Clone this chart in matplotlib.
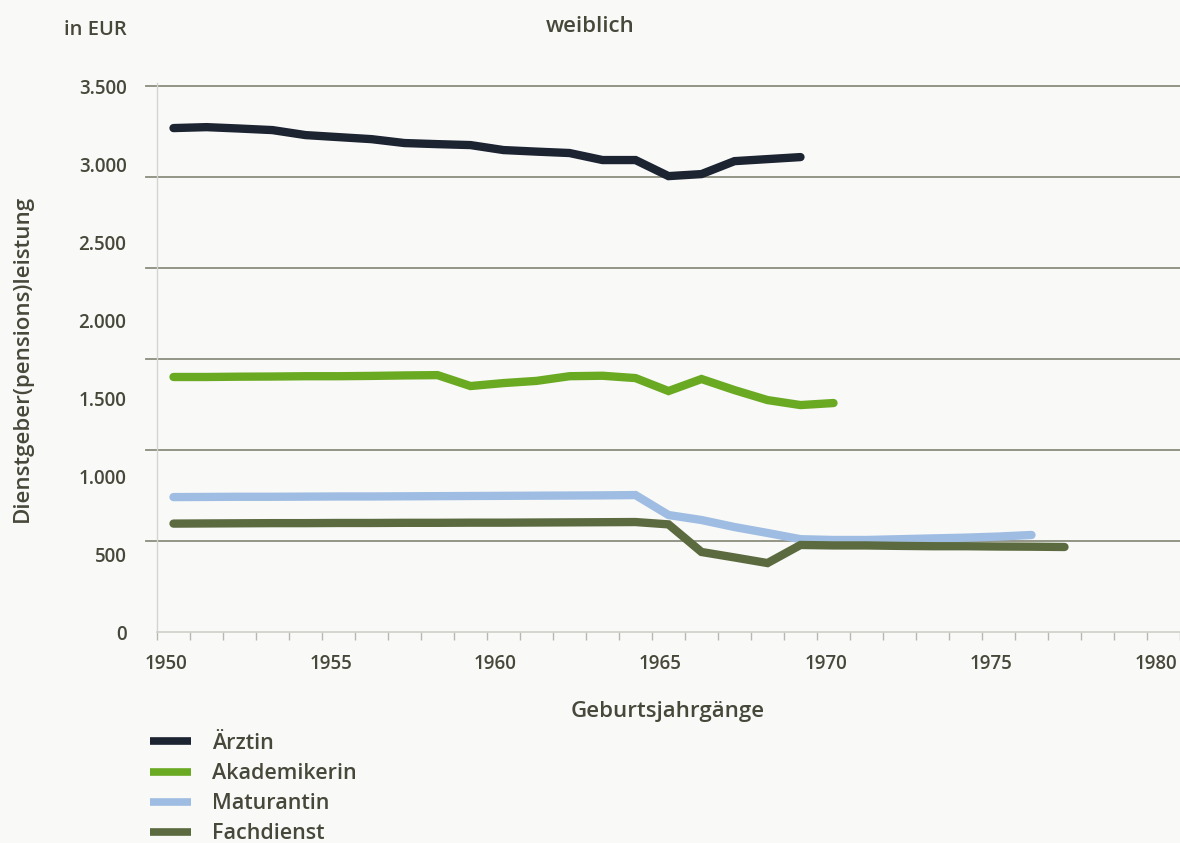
import numpy as np
import matplotlib
matplotlib.use("Agg")
import matplotlib.pyplot as plt
import matplotlib.transforms as mtransforms

plt.rcParams['font.family'] = ['Open Sans', 'DejaVu Sans']

# ---- data ----
series_names = ["Ärztin", "Akademikerin", "Maturantin", "Fachdienst"]

years_aerztin = list(range(1950, 1970))
aerztin = [3231, 3237, 3228, 3218, 3186, 3173, 3160, 3135, 3128, 3122,
           3090, 3080, 3071, 3026, 3026, 2923, 2936, 3019, 3032, 3045]

years_akad = list(range(1950, 1971))
akademikerin = [1635, 1635, 1637, 1638, 1640, 1640, 1642, 1645, 1647, 1577,
                1596, 1610, 1640, 1643, 1628, 1545, 1622, 1551, 1487, 1455, 1468]

years_matur = list(range(1950, 1977))
maturantin = [865, 866, 867, 867, 868, 869, 869, 870, 871, 872,
              873, 874, 875, 876, 878, 750, 718, 673, 635, 595,
              590, 590, 595, 600, 605, 612, 622]

years_fach = list(range(1950, 1978))
fachdienst = [695, 696, 697, 698, 698, 699, 699, 700, 700, 701,
              701, 702, 703, 704, 705, 690, 513, 478, 442, 558,
              555, 555, 552, 550, 550, 548, 547, 545]

y_ticks = [0, 500, 1000, 1500, 2000, 2500, 3000, 3500]
y_ticklabels = ["0", "500", "1.000", "1.500", "2.000", "2.500", "3.000", "3.500"]
x_ticks = [1950, 1955, 1960, 1965, 1970, 1975, 1980]

colors = ["#1c2331", "#6aaa22", "#9fbde2", "#5b6a3f"]
text_color = "#47473a"
bg = "#f9f9f8"
fw = "semibold"

fig = plt.figure(figsize=(11.8, 8.43), dpi=100, facecolor=bg)
W, H = 1180, 843
left_px, right_px, bottom_px, top_px = 157, 1180, 632, 83
ax = fig.add_axes([left_px / W, 1 - bottom_px / H,
                   (right_px - left_px) / W, (bottom_px - top_px) / H])
ax.set_facecolor(bg)

px_per_year = 33.6
x0 = 1949.5
ax.set_xlim(x0, x0 + (right_px - left_px) / px_per_year)
ax.set_ylim(0, 3520)

# gridlines: six equal bands up to 3500, as drawn in the original
for g in np.linspace(0, 3500, 7)[1:]:
    ax.axhline(g, xmin=-0.011, xmax=1, color="#8b8d7e", lw=1.3,
               clip_on=False, zorder=1)

data = [(years_aerztin, aerztin), (years_akad, akademikerin),
        (years_matur, maturantin), (years_fach, fachdienst)]
for i in range(4):
    xs, ys = data[i]
    ax.plot(xs, ys, color=colors[i], lw=6.0, solid_capstyle="round",
            solid_joinstyle="miter", label=series_names[i], zorder=3 + i * 0.1)

# spines
for s in ["top", "right"]:
    ax.spines[s].set_visible(False)
ax.spines["left"].set_color("#d4d4d0")
ax.spines["left"].set_linewidth(1.0)
ax.spines["bottom"].set_color("#cfcfca")
ax.spines["bottom"].set_linewidth(1.2)

ax.set_yticks(y_ticks)
ax.set_yticklabels(y_ticklabels, fontweight=fw)
ax.tick_params(axis="y", length=0, pad=22, labelsize=13.5, labelcolor=text_color)

ax.set_xticks(x_ticks)
ax.set_xticklabels([str(x) for x in x_ticks], fontweight=fw)
ax.set_xticks(np.arange(1949.5, 1981, 1.0), minor=True)
ax.tick_params(axis="x", which="major", length=0, pad=16, labelsize=13.5,
               labelcolor=text_color)
ax.tick_params(axis="x", which="minor", length=6, width=1.0, color="#b8b8b2",
               direction="out")
offset = mtransforms.ScaledTranslation(-8 / 100, 0, fig.dpi_scale_trans)
xl = ax.get_xticklabels()
for lab in xl:
    lab.set_transform(lab.get_transform() + offset)
xl[-1].set_horizontalalignment("right")
xl[-1].set_transform(xl[-1].get_transform() +
                     mtransforms.ScaledTranslation(22 / 100, 0, fig.dpi_scale_trans))

# texts
fig.text(95 / W, 1 - 30 / H, "in EUR", ha="center", va="center",
         fontsize=14.5, color=text_color, fontweight=fw)
fig.text(590 / W, 1 - 27 / H, "weiblich", ha="center", va="center",
         fontsize=16, color=text_color, fontweight=fw)
fig.text(668 / W, 1 - 712 / H, "Geburtsjahrgänge", ha="center", va="center",
         fontsize=16, color=text_color, fontweight=fw)
fig.text(22 / W, 1 - 358 / H, "Dienstgeber(pensions)leistung", ha="center",
         va="center", rotation=90, fontsize=16, color=text_color, fontweight=fw)

handles, labels = ax.get_legend_handles_labels()
leg = fig.legend(handles, labels, loc="upper left",
                 bbox_to_anchor=(150 / W, 1 - 733 / H), frameon=False,
                 prop={"size": 15.5, "weight": fw}, handlelength=1.9,
                 handletextpad=1.0, labelspacing=0.42, borderpad=0,
                 borderaxespad=0)
for t in leg.get_texts():
    t.set_color(text_color)
for l in leg.get_lines():
    l.set_linewidth(5.5)
    l.set_solid_capstyle("butt")

fig.savefig("out.png", dpi=100, facecolor=bg)
